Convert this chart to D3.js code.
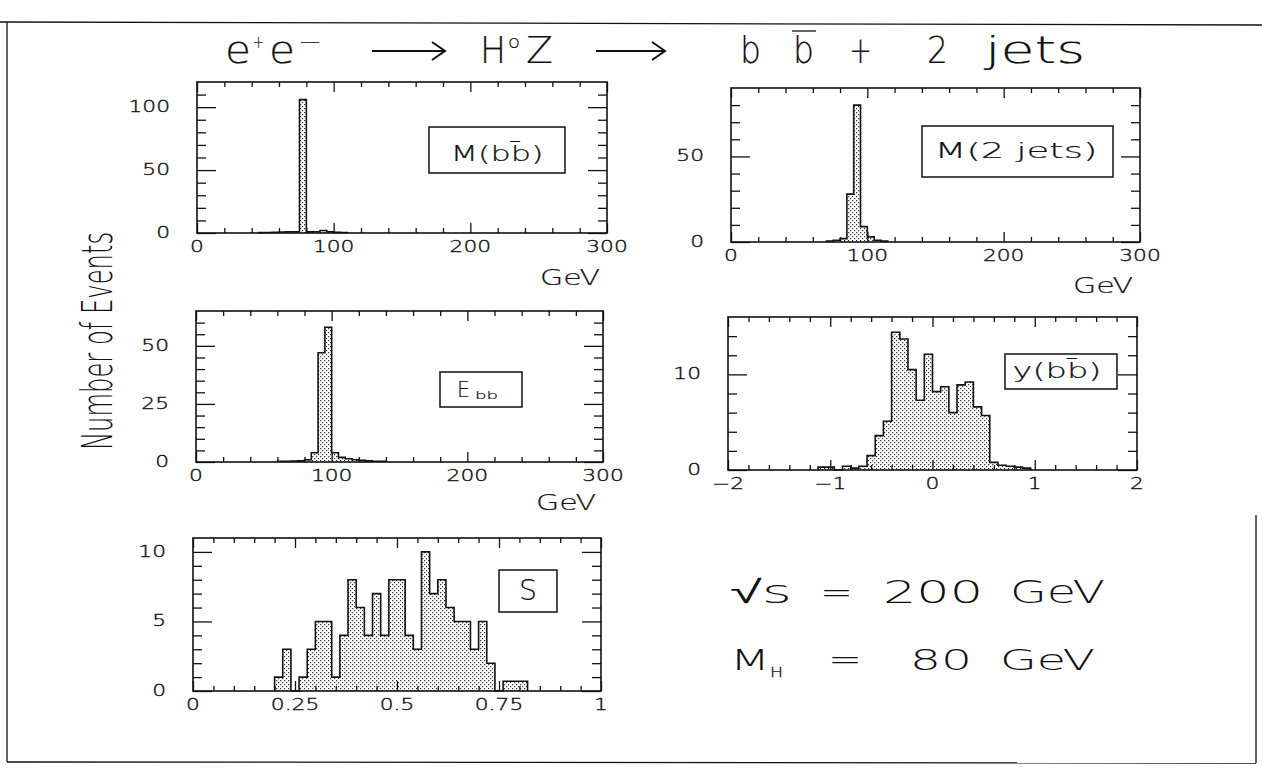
<!DOCTYPE html>
<html>
<head>
<meta charset="utf-8">
<script src="https://cdn.jsdelivr.net/npm/d3@7"></script>
<style>
  html, body { margin: 0; background: #fff; }
  svg { display: block; }
</style>
</head>
<body>
<svg id="fig" width="1262" height="776"></svg>
<script>
// ---------- histogram contents (events per bin) ----------
const massBinWidth = 5;            // GeV
const mbbStart = 45;               // lower edge of first listed bin
const mbbCounts = [0.3, 0.4, 0.6, 0.8, 1, 1, 106, 1, 1, 2, 1, 0.5, 0.4];
const mjjStart = 70;
const mjjCounts = [0.5, 1, 2, 28, 80, 9, 3, 1, 0.5];
const ebbStart = 60;
const ebbCounts = [0.3, 0.3, 0.4, 0.5, 1, 4, 47, 58, 4, 2, 1.4, 1, 0.7, 0.5, 0.3, 0.3];

const rapBinWidth = 0.08;
const rapStart = -1.12;
const rapCounts = [0.3, 0.3, 0, 0.4, 0.2, 0.4, 1.5, 3.6, 5.1, 14.4, 13.7, 10.5, 7.3, 12.1,
                   8.2, 8.7, 6.0, 8.9, 9.2, 6.6, 5.7, 0.8, 0.5, 0.4, 0.3, 0.2];

const sBinWidth = 0.02;
const sStart = 0.20;
const sCounts = [1, 3, 0, 1, 3, 5, 5, 1, 4, 8, 6, 4, 7, 4, 8, 8, 4, 3, 10, 7, 8, 6, 5, 5,
                 3, 5, 2, 0, 0.7, 0.7, 0.7];

// ---------- tick labels ----------
const massTicks = [0, 100, 200, 300];
const rapTicks = [-2, -1, 0, 1, 2];
const sTicks = [0, 0.25, 0.5, 0.75, 1];
const mbbYTicks = [0, 50, 100];
const mjjYTicks = [0, 50];
const ebbYTicks = [0, 25, 50];
const rapYTicks = [0, 10];
const sYTicks = [0, 5, 10];

const FONT = "'DejaVu Sans', sans-serif";
const svg = d3.select("#fig");

// stippled fill used inside the histograms
const pat = svg.append("defs").append("pattern")
  .attr("id", "stipple").attr("patternUnits", "userSpaceOnUse")
  .attr("width", 4).attr("height", 4);
pat.append("rect").attr("width", 4).attr("height", 4).attr("fill", "#fff");
pat.append("rect").attr("x", 0).attr("y", 0).attr("width", 1.2).attr("height", 1.2).attr("fill", "#333");
pat.append("rect").attr("x", 2).attr("y", 2).attr("width", 1.2).attr("height", 1.2).attr("fill", "#333");

// page border
const border = svg.append("g").attr("stroke", "#111").attr("fill", "none").attr("stroke-width", 1.3);
border.append("path").attr("d", "M0,22 L1262,25");
border.append("path").attr("d", "M7,22 L7,762");
border.append("path").attr("d", "M7,762 L1256,763");
border.append("path").attr("d", "M1256,515 L1256,763");

function txt(g, s, x, y, o = {}) {
  const t = g.append("text")
    .attr("transform", `translate(${x},${y}) scale(${o.sx || 1},1)`)
    .attr("text-anchor", o.anchor || "middle")
    .attr("font-family", o.family || FONT)
    .attr("font-weight", o.weight || 200)
    .attr("font-size", o.size || 14)
    .attr("fill", "#111")
    .text(s);
  if (o.stroke) t.attr("stroke", "#111").attr("stroke-width", o.stroke);
  if (o.len) t.attr("textLength", o.len).attr("lengthAdjust", "spacingAndGlyphs");
  return t;
}

const fmt = v => (v < 0 ? "\u2212" : "") + Math.abs(v);

const panels = [
  { start: mbbStart, bw: massBinWidth, counts: mbbCounts, xDomain: [0, 300], yDomain: [0, 120],
    xMinor: 20, xMajor: 100, yMinor: 10, yMajor: 50, xLabels: massTicks, yLabels: mbbYTicks,
    x0: 197, x1: 607, y0: 82, y1: 233, unit: true, unitDy: 52,
    box: { x: 429, y: 127, w: 136, h: 46 }, label: [{ s: "M(bb\u0304)", x: 497, y: 161, size: 21, len: 93 }] },
  { start: mjjStart, bw: massBinWidth, counts: mjjCounts, xDomain: [0, 300], yDomain: [0, 90],
    xMinor: 20, xMajor: 100, yMinor: 10, yMajor: 50, xLabels: massTicks, yLabels: mjjYTicks,
    x0: 731, x1: 1140, y0: 88, y1: 242, unit: true, unitDy: 51,
    box: { x: 922, y: 126, w: 191, h: 51 }, label: [{ s: "M(2 jets)", x: 1016, y: 158, size: 21, len: 163 }] },
  { start: ebbStart, bw: massBinWidth, counts: ebbCounts, xDomain: [0, 300], yDomain: [0, 65],
    xMinor: 20, xMajor: 100, yMinor: 5, yMajor: 25, xLabels: massTicks, yLabels: ebbYTicks,
    x0: 196, x1: 603, y0: 311, y1: 462, unit: true, unitDy: 48,
    box: { x: 440, y: 372, w: 82, h: 35 },
    label: [{ s: "E", x: 457, y: 397, size: 21, len: 13, anchor: "start" },
            { s: "bb", x: 475, y: 399, size: 11, len: 23, anchor: "start" }] },
  { start: rapStart, bw: rapBinWidth, counts: rapCounts, xDomain: [-2, 2], yDomain: [0, 16],
    xMinor: 0.2, xMajor: 1, yMinor: 2, yMajor: 10, xLabels: rapTicks, yLabels: rapYTicks,
    x0: 728, x1: 1137, y0: 317, y1: 470, unit: false,
    box: { x: 1005, y: 354, w: 112, h: 35 }, label: [{ s: "y(bb\u0304)", x: 1057, y: 378, size: 21, len: 89 }] },
  { start: sStart, bw: sBinWidth, counts: sCounts, xDomain: [0, 1], yDomain: [0, 11],
    xMinor: 0.05, xMajor: 0.25, yMinor: 1, yMajor: 5, xLabels: sTicks, yLabels: sYTicks,
    x0: 193, x1: 601, y0: 538, y1: 691, unit: false,
    box: { x: 499, y: 570, w: 58, h: 42 }, label: [{ s: "S", x: 528, y: 600, size: 28, len: 18 }] }
];

function steps(d0, d1, step) {
  const n = Math.round((d1 - d0) / step);
  return d3.range(n + 1).map(i => +(d0 + i * step).toFixed(6));
}
const isMajor = (v, m) => Math.abs(v / m - Math.round(v / m)) < 1e-6;

panels.forEach(p => {
  const g = svg.append("g");
  const x = d3.scaleLinear().domain(p.xDomain).range([p.x0, p.x1]);
  const y = d3.scaleLinear().domain(p.yDomain).range([p.y1, p.y0]);

  const bins = p.counts.map((n, i) => ({ lo: p.start + i * p.bw, n }));
  const last = bins[bins.length - 1];
  const end = last.lo + p.bw;

  const area = d3.area().curve(d3.curveStepAfter)
    .x(d => x(d.lo)).y0(y(0)).y1(d => y(d.n));
  g.append("path").datum(bins.concat([{ lo: end, n: last.n }]))
    .attr("d", area).attr("fill", "url(#stipple)");

  const line = d3.line().curve(d3.curveStepAfter).x(d => x(d.lo)).y(d => y(d.n));
  g.append("path")
    .datum([{ lo: bins[0].lo, n: 0 }].concat(bins, [{ lo: end, n: last.n }, { lo: end, n: 0 }]))
    .attr("d", line).attr("fill", "none").attr("stroke", "#111").attr("stroke-width", 1.6);

  // tick marks on all four sides, pointing inwards
  const xt = steps(p.xDomain[0], p.xDomain[1], p.xMinor);
  const yt = steps(p.yDomain[0], p.yDomain[1], p.yMinor).filter(v => v < p.yDomain[1]);
  const xMin = xt.filter(v => !isMajor(v, p.xMajor)), xMaj = xt.filter(v => isMajor(v, p.xMajor));
  const yMin = yt.filter(v => !isMajor(v, p.yMajor)), yMaj = yt.filter(v => isMajor(v, p.yMajor));

  const ax = [
    [d3.axisBottom(x).tickValues(xMin).tickSize(-5), `translate(0,${p.y1})`],
    [d3.axisBottom(x).tickValues(xMaj).tickSize(-10), `translate(0,${p.y1})`],
    [d3.axisTop(x).tickValues(xMin).tickSize(-5), `translate(0,${p.y0})`],
    [d3.axisTop(x).tickValues(xMaj).tickSize(-10), `translate(0,${p.y0})`],
    [d3.axisLeft(y).tickValues(yMin).tickSize(-9), `translate(${p.x0},0)`],
    [d3.axisLeft(y).tickValues(yMaj).tickSize(-19), `translate(${p.x0},0)`],
    [d3.axisRight(y).tickValues(yMin).tickSize(-9), `translate(${p.x1},0)`],
    [d3.axisRight(y).tickValues(yMaj).tickSize(-19), `translate(${p.x1},0)`]
  ];
  ax.forEach(([a, tr]) => {
    g.append("g").attr("transform", tr)
      .call(a.tickFormat(""))
      .call(s => s.select(".domain").remove())
      .call(s => s.selectAll("line").attr("stroke", "#111").attr("stroke-width", 1.3));
  });

  g.append("rect").attr("x", p.x0).attr("y", p.y0)
    .attr("width", p.x1 - p.x0).attr("height", p.y1 - p.y0)
    .attr("fill", "none").attr("stroke", "#111").attr("stroke-width", 1.6);

  p.xLabels.forEach(v => txt(g, fmt(v), x(v), p.y1 + 19, { size: 15, sx: 1.45, stroke: 0.35 }));
  p.yLabels.forEach(v => txt(g, fmt(v), p.x0 - 27, y(v) + 5, { size: 15, sx: 1.45, anchor: "end", stroke: 0.35 }));
  if (p.unit) txt(g, "GeV", p.x1 - 7, p.y1 + p.unitDy, { size: 21, len: 60, anchor: "end", stroke: 0.2 });

  g.append("rect").attr("x", p.box.x).attr("y", p.box.y).attr("width", p.box.w).attr("height", p.box.h)
    .attr("fill", "#fff").attr("stroke", "#111").attr("stroke-width", 1.5);
  p.label.forEach(l => txt(g, l.s, l.x, l.y,
    { size: l.size, len: l.len, anchor: l.anchor || "middle", stroke: 0.2 }));
});

// ---------- title ----------
const title = svg.append("g");
const tb = 63;
[
  { s: "e", x: 225, w: 26 }, { s: "+", x: 253, w: 11, sup: true }, { s: "e", x: 269, w: 26 },
  { s: "\u2212", x: 298, w: 24, sup: true },
  { s: "H", x: 480, w: 26 }, { s: "o", x: 508, w: 12, sup: true }, { s: "Z", x: 526, w: 27 },
  { s: "b", x: 740, w: 21 }, { s: "b", x: 793, w: 21 }, { s: "+", x: 849, w: 23 },
  { s: "2", x: 927, w: 21 }, { s: "jets", x: 985, w: 100 }
].forEach(d => txt(title, d.s, d.x, d.sup ? tb - 15 : tb,
  { size: d.sup ? 18 : 38, len: d.w, anchor: "start", stroke: 0.2 }));
// bar over the second b, and the two reaction arrows
title.append("path").attr("d", "M792,31 L816,31").attr("stroke", "#111").attr("stroke-width", 1.3);
[[372, 445], [596, 665]].forEach(([a, b]) => {
  title.append("path")
    .attr("d", `M${a},51 L${b},51 M${b - 13},42 L${b},51 L${b - 13},60`)
    .attr("fill", "none").attr("stroke", "#111").attr("stroke-width", 2);
});

// ---------- y-axis caption ----------
txt(svg, "Number of Events", 0, 0, { size: 42, len: 218 })
  .attr("transform", "translate(112,341) rotate(-90)");

// ---------- run parameters ----------
const info = svg.append("g");
const root = txt(info, "", 730, 603, { size: 32, len: 62, anchor: "start" });
root.append("tspan").attr("font-family", "'Liberation Sans', sans-serif").attr("font-weight", 400).text("\u221A");
root.append("tspan").text("s");
txt(info, "=", 820, 603, { size: 32, len: 33, anchor: "start" });
txt(info, "200", 883, 603, { size: 32, len: 100, anchor: "start" });
txt(info, "GeV", 1010, 603, { size: 32, len: 95, anchor: "start" });
txt(info, "M", 730, 670, { size: 28, len: 40, anchor: "start" });
txt(info, "H", 770, 677, { size: 14, len: 13, anchor: "start", stroke: 0.3 });
txt(info, "=", 828, 670, { size: 32, len: 34, anchor: "start" });
txt(info, "80", 910, 670, { size: 28, len: 62, anchor: "start" });
txt(info, "GeV", 1000, 670, { size: 28, len: 95, anchor: "start" });
</script>
</body>
</html>
